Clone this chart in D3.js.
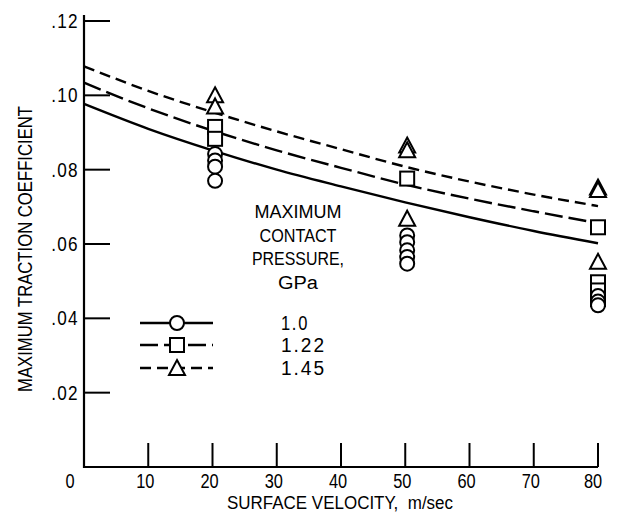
<!DOCTYPE html>
<html><head><meta charset="utf-8">
<script src="https://cdn.jsdelivr.net/npm/d3@7"></script>
<style>
body{margin:0;background:#fff;}
svg{display:block;}
text{font-family:"Liberation Sans",Arial,sans-serif;fill:#000;}
</style></head>
<body>
<svg id="chart" width="617" height="514"></svg>
<script>
// ---- data ----
const xTicks = [0,10,20,30,40,50,60,70,80];
const yTicks = [0.02,0.04,0.06,0.08,0.10,0.12];
const curveX = [0,10,20,30,40,50,60,70,80];
const curve10  = [0.0977,0.0910,0.0852,0.0800,0.0755,0.0712,0.0672,0.0635,0.0602];
const curve122 = [0.1034,0.0965,0.0905,0.0852,0.0805,0.0760,0.0722,0.0688,0.0656];
const curve145 = [0.1078,0.1012,0.0955,0.0903,0.0855,0.0808,0.0768,0.0733,0.0702];
const pts10  = [[20.4,0.0842],[20.4,0.0825],[20.4,0.0808],[20.4,0.0770],
                [50.3,0.0623],[50.3,0.0605],[50.3,0.0583],[50.3,0.0565],[50.3,0.0547],
                [80,0.0460],[80,0.0445],[80,0.0435]];
const pts122 = [[20.4,0.0915],[20.4,0.0883],[50.3,0.0776],
                [80,0.0645],[80,0.0497],[80,0.0475],[80,0.0452]];
const pts145 = [[20.4,0.1000],[20.4,0.0970],[50.3,0.0865],[50.3,0.0852],[50.3,0.0668],
                [80,0.0752],[80,0.0745],[80,0.0552]];
const legendLabels = ["1.0","1.22","1.45"];
const legendTitle = ["MAXIMUM","CONTACT","PRESSURE,","GPa"];
const xTitle = "SURFACE VELOCITY,  m/sec";
const yTitle = "MAXIMUM TRACTION COEFFICIENT";

// ---- helpers ----
function condense(sel, f){
  sel.each(function(){
    const len = this.getComputedTextLength();
    d3.select(this).attr("textLength", len*f).attr("lengthAdjust","spacingAndGlyphs");
  });
  return sel;
}
function fitTo(sel, w){
  sel.attr("textLength", w).attr("lengthAdjust","spacingAndGlyphs");
  return sel;
}

// ---- layout ----
const svg = d3.select("#chart");
const x = d3.scaleLinear().domain([0,80]).range([84,598]);
const y = d3.scaleLinear().domain([0,0.12]).range([467,21]);
const ink = "#000";

// axes lines
svg.append("line").attr("x1",x(0)-1).attr("x2",x(80)).attr("y1",y(0)).attr("y2",y(0))
  .attr("stroke",ink).attr("stroke-width",2.2);
svg.append("line").attr("x1",x(0)).attr("x2",x(0)).attr("y1",y(0)+1).attr("y2",15)
  .attr("stroke",ink).attr("stroke-width",2.2);

// y ticks (inward)
const yt = svg.append("g");
yt.selectAll("line").data(yTicks).join("line")
  .attr("x1",x(0)).attr("x2",x(0)+26).attr("y1",d=>y(d)).attr("y2",d=>y(d))
  .attr("stroke",ink).attr("stroke-width",2);
yt.selectAll("text").data(yTicks).join("text")
  .attr("x",x(0)-5).attr("y",d=>y(d)+7).attr("text-anchor","end")
  .attr("font-size",19.5).attr("letter-spacing",1.5)
  .text(d=>d3.format(".2f")(d).replace(/^0/,""))
  .call(condense,0.88);

// x ticks (inward)
const xt = svg.append("g");
xt.selectAll("line").data(xTicks.filter(d=>d>0)).join("line")
  .attr("x1",d=>x(d)).attr("x2",d=>x(d)).attr("y1",y(0)).attr("y2",y(0)-24)
  .attr("stroke",ink).attr("stroke-width",2);
xt.selectAll("text").data(xTicks).join("text")
  .attr("x",d=>d===0?x(d)-14:(d===80?x(d)-5:x(d)-3))
  .attr("y",488).attr("text-anchor","middle").attr("font-size",19.5)
  .text(d=>d)
  .call(condense,0.84);

// axis titles
svg.append("text").attr("x",(227+453)/2).attr("y",509).attr("text-anchor","middle")
  .attr("font-size",18).attr("xml:space","preserve").text(xTitle)
  .call(fitTo,226);
svg.append("text").attr("transform","translate(32,249) rotate(-90)")
  .attr("text-anchor","middle").attr("font-size",19.5).text(yTitle)
  .call(fitTo,286);

// curves
const line = d3.line().x(d=>x(d[0])).y(d=>y(d[1])).curve(d3.curveMonotoneX);
const series = [
  {vals:curve10, dash:null},
  {vals:curve122, dash:"18,6"},
  {vals:curve145, dash:"11,6"}
];
series.forEach(s=>{
  svg.append("path").datum(curveX.map((c,i)=>[c,s.vals[i]]))
    .attr("d",line).attr("fill","none").attr("stroke",ink).attr("stroke-width",2.4)
    .attr("stroke-dasharray",s.dash);
});

// markers
const R = 7, S = 14;
function circle(g,cx,cy){g.append("circle").attr("cx",cx).attr("cy",cy).attr("r",R)
  .attr("fill","#fff").attr("stroke",ink).attr("stroke-width",2);}
function square(g,cx,cy){g.append("rect").attr("x",cx-S/2).attr("y",cy-S/2).attr("width",S).attr("height",S)
  .attr("fill","#fff").attr("stroke",ink).attr("stroke-width",2);}
function tri(g,cx,cy){const h=14,w=16;
  g.append("path").attr("d",`M${cx},${cy-h/2-1}L${cx+w/2},${cy+h/2}L${cx-w/2},${cy+h/2}Z`)
  .attr("fill","#fff").attr("stroke",ink).attr("stroke-width",2).attr("stroke-linejoin","miter");}
const mg = svg.append("g");
pts145.forEach(p=>tri(mg,x(p[0]),y(p[1])));
pts122.forEach(p=>square(mg,x(p[0]),y(p[1])));
pts10.forEach(p=>circle(mg,x(p[0]),y(p[1])));

// legend
const lg = svg.append("g");
const titleW = [87,77,92,40];
legendTitle.forEach((t,i)=>{
  lg.append("text").attr("x",298).attr("y",218+i*23.5).attr("text-anchor","middle")
    .attr("font-size",18).text(t).call(fitTo,titleW[i]);
});
const rowsY = [323,345,368];
const dashes = [null,"18,6","11,6"];
const makers = [circle,square,tri];
const labW = [28,45,45];
rowsY.forEach((ry,i)=>{
  lg.append("line").attr("x1",140).attr("x2",213).attr("y1",ry).attr("y2",ry)
    .attr("stroke",ink).attr("stroke-width",2.4).attr("stroke-dasharray",dashes[i]);
  makers[i](lg,177,ry);
  lg.append("text").attr("x",281).attr("y",ry+7).attr("font-size",19.5)
    .attr("letter-spacing",2).text(legendLabels[i]).call(fitTo,labW[i]);
});
</script>
</body></html>
